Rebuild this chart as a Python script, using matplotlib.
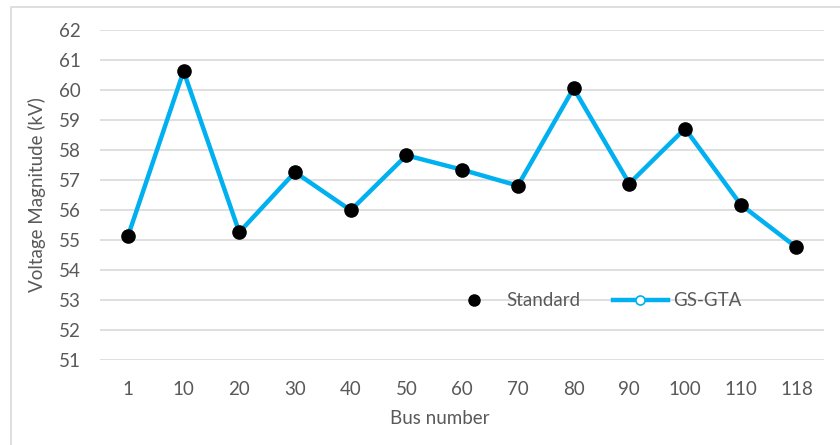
import matplotlib
matplotlib.use("Agg")
import matplotlib.pyplot as plt
from matplotlib.patches import Rectangle
from matplotlib.lines import Line2D

# Bus voltage magnitudes (kV)
bus_labels = ["1", "10", "20", "30", "40", "50", "60", "70", "80", "90", "100", "110", "118"]
standard = [55.12, 60.62, 55.26, 57.26, 55.99, 57.82, 57.34, 56.81, 60.05, 56.88, 58.71, 56.18, 54.76]
gs_gta = [55.12, 60.62, 55.26, 57.26, 55.99, 57.82, 57.34, 56.81, 60.05, 56.88, 58.71, 56.18, 54.76]
y_ticks = [51, 52, 53, 54, 55, 56, 57, 58, 59, 60, 61, 62]

W, H = 840, 445
plt.rcParams["font.family"] = ["Lato", "DejaVu Sans"]
text_color = "#595959"
blue = "#00B0F0"
fs = 13.5

fig = plt.figure(figsize=(W / 100, H / 100), dpi=100)
fig.patch.set_facecolor("white")

# outer chart frame
fig.add_artist(Rectangle((11 / W, -0.05), 1.0, 1 - 7 / H + 0.05, transform=fig.transFigure,
                         fill=False, edgecolor="#D9D9D9", linewidth=1.2))

left, right = 100 / W, 824.3 / W
bottom, top = 1 - 360.3 / H, 1 - 29.7 / H
ax = fig.add_axes([left, bottom, right - left, top - bottom])

x = list(range(len(bus_labels)))
ax.plot(x, gs_gta, color=blue, linewidth=3.2, marker="o", markersize=5,
        markerfacecolor="white", markeredgecolor=blue, markeredgewidth=1.2, zorder=3)
ax.plot(x, standard, linestyle="none", marker="o", markersize=9.5,
        color="black", zorder=4)

ax.set_xlim(-0.5, len(bus_labels) - 0.5)
ax.set_ylim(51, 62)
ax.set_yticks(y_ticks)
ax.set_xticks(x)
ax.set_xticklabels(bus_labels)
ax.grid(axis="y", color="#D9D9D9", linewidth=1.2)
ax.set_axisbelow(True)
for s in ax.spines.values():
    s.set_visible(False)
ax.tick_params(axis="both", length=0, labelsize=fs, colors=text_color)
ax.tick_params(axis="y", pad=14)
ax.tick_params(axis="x", pad=15)

fig.text(37 / W, 1 - 195 / H, "Voltage Magnitude (kV)", rotation=90, ha="center", va="center",
         fontsize=fs, color=text_color)
fig.text(440 / W, 1 - 418 / H, "Bus number", ha="center", va="center",
         fontsize=fs, color=text_color)

handles = [
    Line2D([], [], linestyle="none", marker="o", markersize=8, color="black"),
    Line2D([], [], color=blue, linewidth=3.2, marker="o", markersize=6.5,
           markerfacecolor="white", markeredgecolor=blue, markeredgewidth=1.2),
]
leg = ax.legend(handles, ["Standard", "GS-GTA"], loc="center",
                bbox_to_anchor=((594 - 100) / (824.3 - 100), (360.3 - 301) / (360.3 - 29.7)),
                ncol=2, frameon=False, fontsize=fs, handlelength=2.9, handletextpad=0.3,
                columnspacing=1.75, labelcolor=text_color)

fig.savefig("out.png", dpi=100, facecolor="white")
